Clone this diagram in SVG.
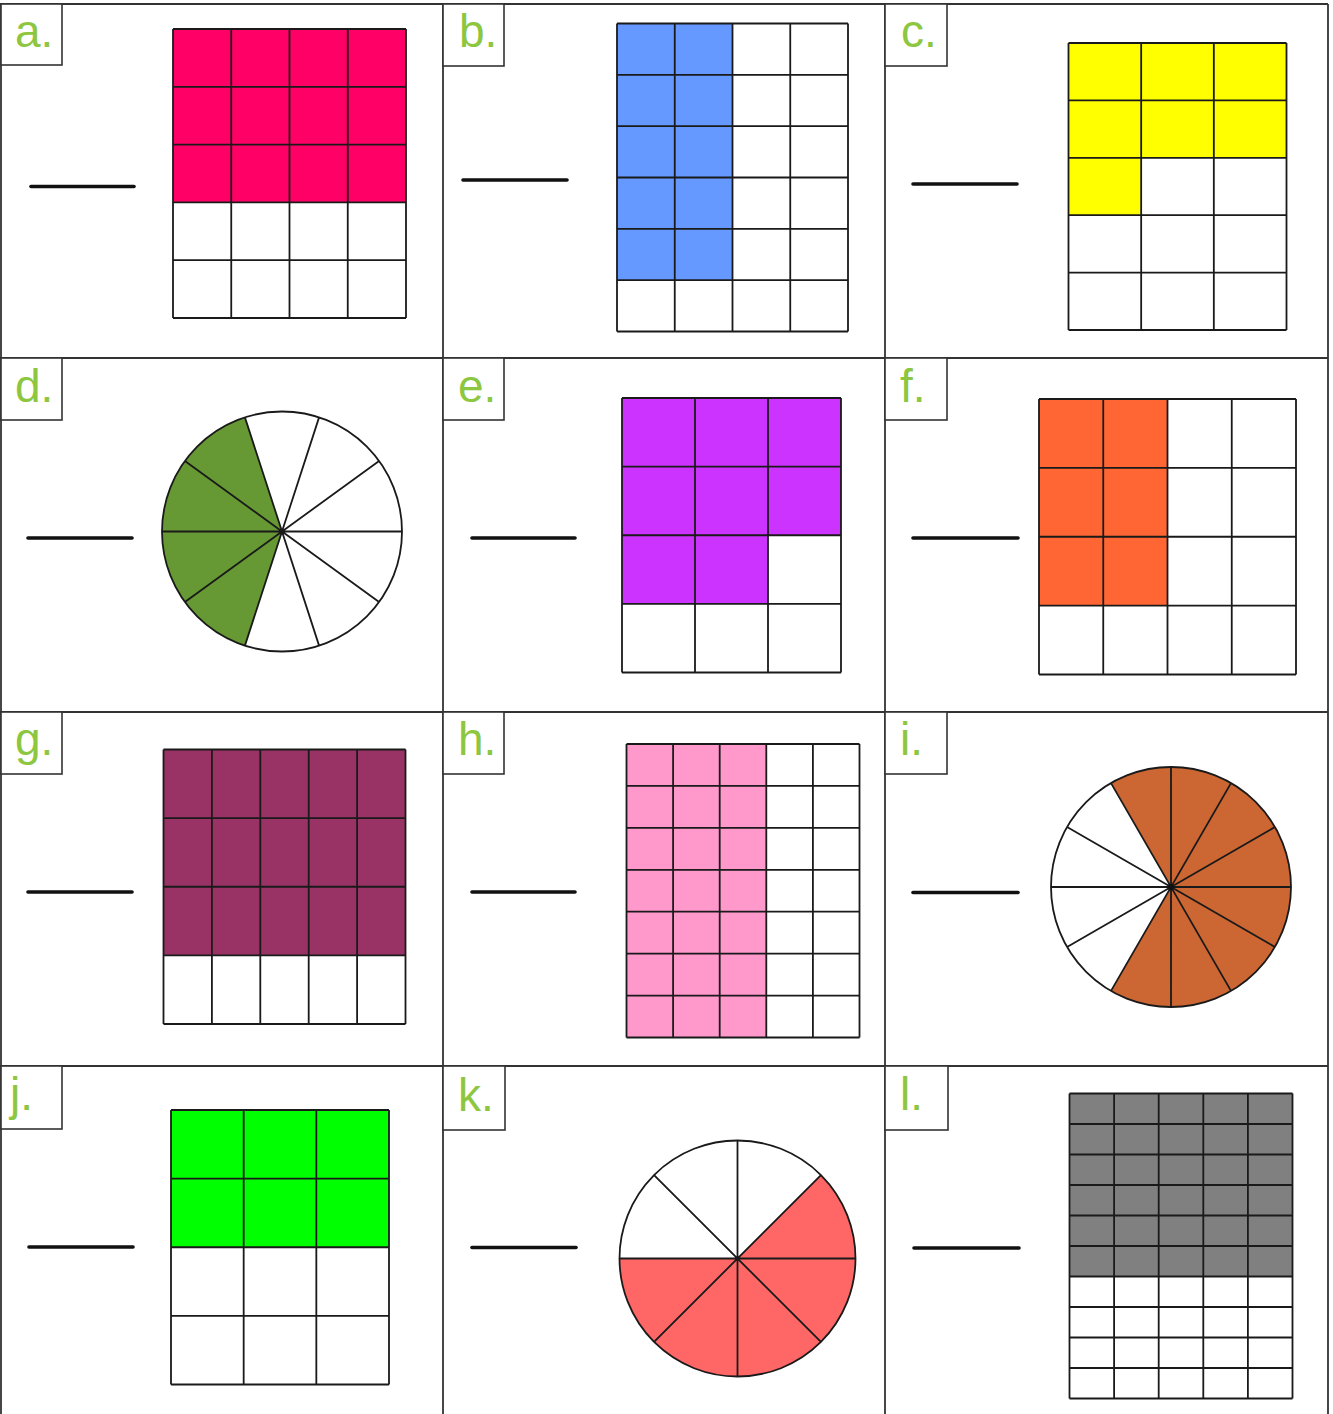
<svg xmlns="http://www.w3.org/2000/svg" width="1333" height="1414" viewBox="0 0 1333 1414">
<style>
.frame{fill:none;stroke:#333;stroke-width:1.8}
.lbox{fill:#fff;stroke:#333;stroke-width:1.6}
.lbl{font-family:"Liberation Sans",Arial,sans-serif;font-size:46px;fill:#8dc63f}
.ans{stroke:#111;stroke-width:3.6;stroke-linecap:round}
.grid{fill:none;stroke:#1a1a1a;stroke-width:1.8}
.rim{fill:none;stroke:#1a1a1a;stroke-width:1.8}
</style>
<rect width="1333" height="1414" fill="#fff"/>
<g id="frame" class="frame">
<path d="M1,4V1414M443,4V1414M885,4V1414M1328,4V1414M0,4H1328M0,358H1328M0,712H1328M0,1066H1328"/>
</g>
<g id="cell-a">
<rect class="lbox" x="1" y="4" width="61" height="61"/>
<text class="lbl" x="15" y="47">a.</text>
<line class="ans" x1="31" y1="186.5" x2="134" y2="186.5"/>
<rect x="173" y="29" width="233" height="173.4" fill="#ff0066"/>
<path class="grid" d="M173,29V318M231.25,29V318M289.5,29V318M347.75,29V318M406,29V318M173,29H406M173,86.8H406M173,144.6H406M173,202.4H406M173,260.2H406M173,318H406"/>
</g>
<g id="cell-b">
<rect class="lbox" x="443" y="4" width="61" height="62"/>
<text class="lbl" x="459" y="47">b.</text>
<line class="ans" x1="463" y1="180" x2="567" y2="180"/>
<rect x="617" y="23.5" width="115.5" height="256.67" fill="#6699ff"/>
<path class="grid" d="M617,23.5V331.5M674.75,23.5V331.5M732.5,23.5V331.5M790.25,23.5V331.5M848,23.5V331.5M617,23.5H848M617,74.83H848M617,126.17H848M617,177.5H848M617,228.83H848M617,280.17H848M617,331.5H848"/>
</g>
<g id="cell-c">
<rect class="lbox" x="885" y="4" width="62" height="62"/>
<text class="lbl" x="901" y="47">c.</text>
<line class="ans" x1="913" y1="184" x2="1017" y2="184"/>
<path d="M1068.5,43H1286.5V157.8H1141.17V215.2H1068.5Z" fill="#ffff00"/>
<path class="grid" d="M1068.5,43V330M1141.17,43V330M1213.83,43V330M1286.5,43V330M1068.5,43H1286.5M1068.5,100.4H1286.5M1068.5,157.8H1286.5M1068.5,215.2H1286.5M1068.5,272.6H1286.5M1068.5,330H1286.5"/>
</g>
<g id="cell-d">
<rect class="lbox" x="1" y="358" width="61" height="62"/>
<text class="lbl" x="15" y="402">d.</text>
<line class="ans" x1="28" y1="538" x2="132" y2="538"/>
<circle cx="282" cy="531.5" r="120" fill="#fff"/>
<path d="M282,531.5L244.92,417.37A120,120 0 0 0 244.92,645.63Z" fill="#669933"/>
<path class="grid" d="M402,531.5L162,531.5M379.08,460.97L184.92,602.03M319.08,417.37L244.92,645.63M244.92,417.37L319.08,645.63M184.92,460.97L379.08,602.03"/>
<circle class="rim" cx="282" cy="531.5" r="120"/>
</g>
<g id="cell-e">
<rect class="lbox" x="443" y="358" width="61" height="62"/>
<text class="lbl" x="458" y="402">e.</text>
<line class="ans" x1="472" y1="538" x2="575" y2="538"/>
<path d="M622,398H841V535.25H768V603.88H622Z" fill="#cc33ff"/>
<path class="grid" d="M622,398V672.5M695,398V672.5M768,398V672.5M841,398V672.5M622,398H841M622,466.63H841M622,535.25H841M622,603.88H841M622,672.5H841"/>
</g>
<g id="cell-f">
<rect class="lbox" x="885" y="358" width="62" height="62"/>
<text class="lbl" x="900" y="402">f.</text>
<line class="ans" x1="913" y1="538" x2="1018" y2="538"/>
<rect x="1039" y="399" width="128.5" height="206.63" fill="#ff6633"/>
<path class="grid" d="M1039,399V674.5M1103.25,399V674.5M1167.5,399V674.5M1231.75,399V674.5M1296,399V674.5M1039,399H1296M1039,467.88H1296M1039,536.75H1296M1039,605.63H1296M1039,674.5H1296"/>
</g>
<g id="cell-g">
<rect class="lbox" x="1" y="712" width="61" height="62"/>
<text class="lbl" x="15" y="755">g.</text>
<line class="ans" x1="28" y1="892" x2="132" y2="892"/>
<rect x="163.5" y="749.5" width="242" height="205.88" fill="#993366"/>
<path class="grid" d="M163.5,749.5V1024M211.9,749.5V1024M260.3,749.5V1024M308.7,749.5V1024M357.1,749.5V1024M405.5,749.5V1024M163.5,749.5H405.5M163.5,818.13H405.5M163.5,886.75H405.5M163.5,955.38H405.5M163.5,1024H405.5"/>
</g>
<g id="cell-h">
<rect class="lbox" x="443" y="712" width="61" height="62"/>
<text class="lbl" x="458" y="755">h.</text>
<line class="ans" x1="472" y1="892" x2="575" y2="892"/>
<rect x="626.5" y="744" width="139.8" height="293.5" fill="#ff99cc"/>
<path class="grid" d="M626.5,744V1037.5M673.1,744V1037.5M719.7,744V1037.5M766.3,744V1037.5M812.9,744V1037.5M859.5,744V1037.5M626.5,744H859.5M626.5,785.93H859.5M626.5,827.86H859.5M626.5,869.79H859.5M626.5,911.71H859.5M626.5,953.64H859.5M626.5,995.57H859.5M626.5,1037.5H859.5"/>
</g>
<g id="cell-i">
<rect class="lbox" x="885" y="712" width="62" height="62"/>
<text class="lbl" x="900" y="755">i.</text>
<line class="ans" x1="913" y1="892.5" x2="1018" y2="892.5"/>
<circle cx="1171" cy="887" r="120" fill="#cc6633"/>
<path d="M1171,887L1111,783.08A120,120 0 0 0 1111,990.92Z" fill="#fff"/>
<path class="grid" d="M1291,887L1051,887M1274.92,827L1067.08,947M1231,783.08L1111,990.92M1171,767L1171,1007M1111,783.08L1231,990.92M1067.08,827L1274.92,947"/>
<circle class="rim" cx="1171" cy="887" r="120"/>
<circle cx="1171" cy="887" r="3" fill="#111"/>
</g>
<g id="cell-j">
<rect class="lbox" x="1" y="1066" width="61" height="63"/>
<text class="lbl" x="10" y="1110">j.</text>
<line class="ans" x1="29" y1="1247" x2="133" y2="1247"/>
<rect x="171" y="1110" width="218" height="137.25" fill="#00ff00"/>
<path class="grid" d="M171,1110V1384.5M243.67,1110V1384.5M316.33,1110V1384.5M389,1110V1384.5M171,1110H389M171,1178.63H389M171,1247.25H389M171,1315.88H389M171,1384.5H389"/>
</g>
<g id="cell-k">
<rect class="lbox" x="443" y="1066" width="62" height="64"/>
<text class="lbl" x="458" y="1111">k.</text>
<line class="ans" x1="472" y1="1247.5" x2="576" y2="1247.5"/>
<circle cx="737.5" cy="1258.5" r="118" fill="#ff6666"/>
<path d="M737.5,1258.5L820.94,1175.06A118,118 0 0 0 619.5,1258.5Z" fill="#fff"/>
<path class="grid" d="M855.5,1258.5L619.5,1258.5M820.94,1175.06L654.06,1341.94M737.5,1140.5L737.5,1376.5M654.06,1175.06L820.94,1341.94"/>
<circle class="rim" cx="737.5" cy="1258.5" r="118"/>
</g>
<g id="cell-l">
<rect class="lbox" x="885" y="1066" width="63" height="64"/>
<text class="lbl" x="900" y="1110">l.</text>
<line class="ans" x1="914" y1="1248" x2="1019" y2="1248"/>
<rect x="1069.5" y="1093.5" width="223" height="183" fill="#808080"/>
<path class="grid" d="M1069.5,1093.5V1398.5M1114.1,1093.5V1398.5M1158.7,1093.5V1398.5M1203.3,1093.5V1398.5M1247.9,1093.5V1398.5M1292.5,1093.5V1398.5M1069.5,1093.5H1292.5M1069.5,1124H1292.5M1069.5,1154.5H1292.5M1069.5,1185H1292.5M1069.5,1215.5H1292.5M1069.5,1246H1292.5M1069.5,1276.5H1292.5M1069.5,1307H1292.5M1069.5,1337.5H1292.5M1069.5,1368H1292.5M1069.5,1398.5H1292.5"/>
</g>
</svg>
